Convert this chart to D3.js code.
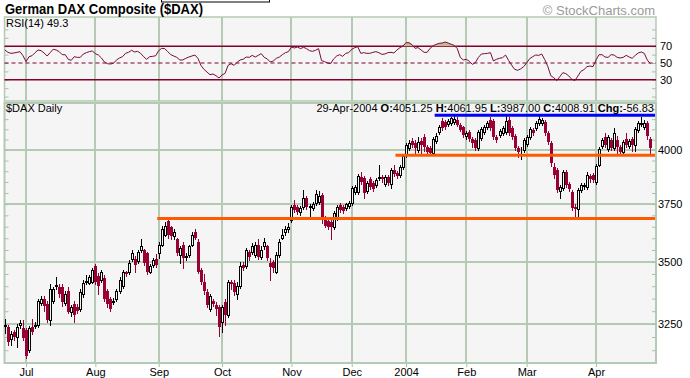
<!DOCTYPE html>
<html>
<head>
<meta charset="utf-8">
<script src="https://cdn.jsdelivr.net/npm/d3@7"></script>
<style>
  body { margin: 0; background: #fff; }
  text { font-family: "Liberation Sans", Arial, sans-serif; }
</style>
</head>
<body>
<div id="chart"></div>
<script>
// trading days shown per month (Jun 2003 partial ... Apr 2004)
var months = ["Jun", "Jul", "Aug", "Sep", "Oct", "Nov", "Dec", "2004", "Feb", "Mar", "Apr"];
var barsPerMonth = [7, 23, 21, 21, 23, 20, 18, 20, 20, 23, 19];

var opens = [
  3242,3239,3193,3220,3201,3248,3235,3227,3151,3239,
  3244,3246,3331,3347,3327,3266,3339,3399,3395,3395,
  3331,3379,3295,3327,3315,3307,3367,3417,3415,3419,
  3484,3440,3427,3432,3379,3347,3337,3347,3379,3399,
  3456,3456,3513,3513,3504,3552,3548,3539,3460,3488,
  3513,3539,3573,3616,3677,3647,3608,3595,3530,3573,
  3522,3530,3573,3629,3582,3468,3419,3375,3307,3339,
  3323,3315,3258,3335,3287,3419,3415,3367,3399,3488,
  3484,3543,3543,3530,3573,3522,3565,3565,3496,3500,
  3460,3530,3603,3625,3638,3681,3746,3737,3716,3737,
  3778,3737,3733,3755,3759,3792,3690,3677,3672,3647,
  3690,3746,3737,3733,3741,3755,3806,3806,3875,3870,
  3810,3866,3847,3838,3870,3875,3843,3875,3843,3907,
  3894,3884,3921,3977,4010,4044,4034,4000,4044,4064,
  4015,4010,3986,4044,4088,4142,4137,4127,4132,4137,
  4147,4123,4113,4069,4088,4054,4049,4010,4059,4088,
  4113,4147,4142,4064,4074,4083,4088,4147,4108,4069,
  4010,3998,4000,4029,4064,4098,4108,4132,4132,4137,
  4083,4034,3921,3907,3810,3824,3898,3843,3806,3737,
  3728,3815,3833,3829,3880,3884,3852,3931,4020,4064,
  4005,4049,4010,4049,4015,3991,4054,4020,4054,4025,
  4098,4127,4113,4132,4051.25
];
var highs = [
  3271,3246,3223,3227,3250,3266,3266,3235,3242,3271,
  3258,3347,3359,3359,3339,3407,3395,3436,3407,3407,
  3379,3395,3323,3339,3327,3387,3427,3444,3444,3476,
  3492,3452,3468,3444,3387,3355,3351,3387,3436,3468,
  3464,3509,3552,3526,3552,3595,3556,3543,3492,3517,
  3535,3582,3655,3672,3690,3655,3638,3603,3569,3582,
  3539,3573,3625,3638,3595,3476,3448,3387,3367,3347,
  3335,3323,3323,3347,3427,3427,3427,3419,3500,3500,
  3560,3552,3578,3586,3595,3565,3603,3573,3517,3509,
  3543,3595,3638,3655,3668,3746,3769,3746,3741,3815,
  3787,3750,3759,3815,3810,3801,3698,3685,3681,3720,
  3746,3755,3746,3755,3764,3833,3838,3889,3898,3880,
  3856,3875,3856,3870,3931,3884,3884,3884,3917,3931,
  3903,3931,3981,4034,4049,4059,4049,4064,4059,4078,
  4025,4020,4064,4083,4123,4157,4147,4152,4162,4172,
  4162,4132,4118,4093,4098,4064,4059,4098,4113,4123,
  4142,4162,4152,4074,4103,4118,4167,4162,4118,4078,
  4020,4015,4059,4074,4113,4108,4142,4167,4157,4147,
  4093,4044,3940,3917,3838,3907,3907,3852,3815,3750,
  3824,3847,3847,3898,3889,3894,3935,4015,4059,4083,
  4074,4059,4108,4069,4025,4049,4083,4054,4064,4113,
  4142,4162,4147,4142,4061.95
];
var lows = [
  3216,3170,3170,3189,3163,3235,3189,3121,3144,3212,
  3235,3239,3323,3299,3258,3246,3331,3387,3355,3319,
  3323,3291,3283,3258,3291,3299,3355,3407,3407,3411,
  3407,3367,3419,3339,3315,3299,3327,3339,3371,3391,
  3440,3448,3504,3460,3496,3543,3488,3448,3452,3480,
  3480,3517,3565,3608,3603,3595,3595,3530,3496,3476,
  3509,3522,3565,3595,3452,3407,3367,3315,3299,3319,
  3287,3205,3220,3246,3279,3387,3363,3347,3391,3468,
  3476,3509,3535,3522,3513,3513,3556,3509,3427,3460,
  3452,3522,3595,3616,3629,3672,3716,3707,3703,3728,
  3728,3694,3724,3746,3750,3668,3647,3638,3595,3638,
  3681,3716,3711,3724,3733,3746,3796,3796,3843,3778,
  3801,3819,3810,3829,3861,3852,3833,3838,3824,3880,
  3870,3875,3912,3968,4000,4015,3986,3991,3986,3995,
  3981,3977,3977,4034,4078,4098,4103,4118,4123,4127,
  4118,4093,4064,4054,4044,4015,4000,4000,4049,4078,
  4103,4098,4054,4039,4064,4074,4078,4074,4054,4000,
  3968,3958,3991,4020,4054,4074,4098,4123,4123,4074,
  4029,3926,3870,3806,3778,3815,3829,3810,3724,3694,
  3694,3806,3819,3819,3852,3852,3843,3926,4010,4015,
  3995,4000,4000,3986,3977,3981,4015,4010,3995,3995,
  4088,4118,4103,4054,3987.00
];
var closes = [
  3246,3182,3212,3201,3239,3252,3197,3128,3235,3220,
  3246,3339,3347,3319,3266,3387,3387,3403,3367,3335,
  3367,3295,3315,3287,3299,3375,3415,3421,3436,3468,
  3419,3399,3456,3347,3327,3307,3341,3379,3427,3456,
  3448,3496,3539,3488,3543,3565,3496,3456,3484,3509,
  3488,3573,3638,3655,3616,3608,3629,3539,3560,3517,
  3526,3565,3616,3603,3460,3419,3379,3323,3359,3327,
  3307,3239,3315,3287,3419,3407,3375,3399,3484,3476,
  3552,3522,3565,3573,3522,3552,3582,3517,3480,3476,
  3530,3586,3616,3638,3647,3737,3724,3716,3733,3778,
  3737,3741,3750,3796,3787,3681,3655,3651,3647,3711,
  3737,3724,3720,3750,3755,3824,3829,3880,3852,3801,
  3847,3829,3819,3861,3875,3866,3875,3847,3907,3889,
  3880,3921,3972,4025,4034,4025,4010,4039,4025,4015,
  3991,3986,4054,4069,4113,4108,4113,4142,4157,4152,
  4123,4098,4074,4083,4054,4034,4010,4088,4103,4113,
  4132,4108,4064,4049,4093,4108,4142,4083,4064,4010,
  3991,4002,4049,4064,4103,4083,4132,4152,4147,4083,
  4039,3940,3884,3815,3829,3898,3838,3819,3733,3728,
  3815,3838,3836,3884,3866,3861,3926,4005,4049,4025,
  4064,4010,4083,4015,3991,4039,4025,4044,4025,4103,
  4132,4132,4132,4065.74,4008.91
];
var rsi = [
  65.5,62.7,61.5,61.9,62.7,63.5,58.7,51.6,57.5,58.7,
  62.3,65.5,64.7,61.9,58.3,62.3,66.3,65.5,63.5,59.9,
  59.9,54.4,53.2,57.5,56.7,56.7,60.7,62.3,63.5,64.3,
  61.1,59.5,56.0,51.2,49.2,48.8,49.6,53.6,56.0,57.5,
  61.5,62.7,65.1,63.1,63.9,61.5,57.5,54.4,57.5,57.9,
  58.7,64.7,67.5,67.1,63.5,59.9,58.3,56.7,53.6,53.6,
  55.6,57.1,58.3,59.5,55.6,47.2,42.5,39.3,36.1,36.9,
  34.9,32.1,35.7,37.7,47.2,49.2,47.2,50.8,53.6,54.4,
  57.1,56.7,59.1,57.1,59.1,61.1,56.7,54.8,51.2,52.4,
  55.6,57.1,59.9,62.3,63.5,69.0,67.9,69.0,67.1,68.7,
  67.1,64.7,63.9,65.1,67.1,52.8,51.6,50.0,49.2,54.8,
  58.3,59.9,57.9,61.5,62.3,66.3,68.3,69.4,61.5,62.3,
  61.5,61.5,62.7,63.5,62.3,60.3,60.7,62.3,62.7,61.9,
  65.5,68.3,70.2,74.2,74.2,71.8,67.5,68.3,65.5,62.7,
  62.7,67.5,70.6,72.2,73.4,73.8,75.0,73.8,72.2,71.0,
  67.1,56.7,53.6,54.4,52.0,48.4,50.4,56.7,60.7,61.1,
  61.5,62.3,52.4,54.4,55.6,56.3,59.5,53.2,47.6,42.5,
  41.3,42.9,45.6,50.0,55.2,57.5,59.5,59.1,60.7,54.0,
  46.0,34.9,32.5,29.0,33.7,38.5,37.3,34.5,30.6,29.0,
  34.5,40.1,42.1,45.6,46.4,45.6,53.6,59.9,59.9,57.1,
  56.7,59.9,59.5,56.7,56.0,56.7,59.1,57.1,55.6,59.1,
  61.9,63.1,61.5,53.6,49.3
];

var priceTicks = [3250, 3500, 3750, 4000];
var rsiLevels = [30, 50, 70];
// support / resistance lines: level and first bar
var trendLevels = [3686, 3975, 4169];
var trendStart = [51, 130, 143];
var trendColors = ["#ff5a00", "#ff5a00", "#0000ff"];
var lastDate = "29-Apr-2004";

var width = 690, height = 378;
var L = 4.5, R = 656;
var rsiTop = 17, rsiBot = 101, pTop = 103, pBot = 363;
var gridColor = "#b4cab4", panelBg = "#f5f5f5", red = "#990033";

var svg = d3.select("#chart").append("svg")
    .attr("width", width).attr("height", height);

// scales
var x = d3.scaleLinear().domain([0, closes.length - 1]).range([4.9, 650.3]);
var y = d3.scaleLog().domain([3250, 4000]).range([324, 150]);
var yR = d3.scaleLinear().domain([0, 100]).range([105, 21]);

var monthStart = [], acc = 0;
barsPerMonth.forEach(function(n) { monthStart.push(acc); acc += n; });

// panels
svg.append("rect").attr("x", L).attr("y", rsiTop).attr("width", R - L).attr("height", rsiBot - rsiTop)
    .attr("fill", panelBg).attr("stroke", gridColor).attr("stroke-width", 1.5);
svg.append("rect").attr("x", L).attr("y", pTop).attr("width", R - L).attr("height", pBot - pTop)
    .attr("fill", panelBg).attr("stroke", gridColor).attr("stroke-width", 2);

// vertical month gridlines in both panels
var mIdx = monthStart.slice(1);
[[rsiTop, rsiBot], [pTop, pBot]].forEach(function(p) {
  svg.append("g").selectAll("line").data(mIdx).enter().append("line")
      .attr("x1", function(d) { return Math.round(x(d)); })
      .attr("x2", function(d) { return Math.round(x(d)); })
      .attr("y1", p[0]).attr("y2", p[1])
      .attr("stroke", gridColor).attr("stroke-width", 2);
});

// horizontal price gridlines
svg.append("g").selectAll("line").data(priceTicks).enter().append("line")
    .attr("x1", L).attr("x2", R)
    .attr("y1", function(d) { return Math.round(y(d)); })
    .attr("y2", function(d) { return Math.round(y(d)); })
    .attr("stroke", gridColor).attr("stroke-width", 2);

// minor ticks on both edges of price panel
var minor = d3.range(3150, 4251, 50);
var axR = svg.append("g").attr("transform", "translate(" + R + ",0)")
    .call(d3.axisLeft(y).tickValues(minor).tickSize(4).tickFormat(""));
var axL = svg.append("g").attr("transform", "translate(" + L + ",0)")
    .call(d3.axisRight(y).tickValues(minor).tickSize(4).tickFormat(""));
var rsiMinor = d3.range(10, 100, 10);
var axR2 = svg.append("g").attr("transform", "translate(" + R + ",0)")
    .call(d3.axisLeft(yR).tickValues(rsiMinor).tickSize(4).tickFormat(""));
var axL2 = svg.append("g").attr("transform", "translate(" + L + ",0)")
    .call(d3.axisRight(yR).tickValues(rsiMinor).tickSize(4).tickFormat(""));
[axR, axL, axR2, axL2].forEach(function(a) {
  a.select(".domain").remove();
  a.selectAll(".tick").filter(function(d) {
    var yy = (a === axR || a === axL) ? y(d) : yR(d);
    return (a === axR || a === axL) ? (yy < pTop + 2 || yy > pBot - 2) : (yy < rsiTop + 2 || yy > rsiBot - 2);
  }).remove();
  a.selectAll("line").attr("stroke", "#a9bfa9");
});

// right labels
var labP = svg.append("g").attr("transform", "translate(" + (R + 1) + ",0)")
    .call(d3.axisRight(y).tickValues(priceTicks).tickSize(0).tickPadding(1).tickFormat(d3.format("d")));
var labR = svg.append("g").attr("transform", "translate(" + (R + 1) + ",0)")
    .call(d3.axisRight(yR).tickValues(rsiLevels).tickSize(0).tickPadding(3));
[labP, labR].forEach(function(a) {
  a.select(".domain").remove();
  a.selectAll("text").attr("font-size", 11).attr("fill", "#000")
      .attr("font-family", "Liberation Sans, Arial, sans-serif");
});

// bottom month axis
var axB = svg.append("g").attr("transform", "translate(0," + (pBot + 1) + ")")
    .call(d3.axisBottom(x).tickValues(mIdx).tickSize(3).tickPadding(1)
      .tickFormat(function(d, i) { return months[i + 1]; }));
axB.select(".domain").remove();
axB.selectAll("line").attr("stroke", "#a9bfa9").attr("stroke-width", 1);
axB.selectAll("text").attr("font-size", 11).attr("fill", "#000")
    .attr("font-family", "Liberation Sans, Arial, sans-serif");

// RSI reference lines
svg.append("g").selectAll("line").data(rsiLevels).enter().append("line")
    .attr("x1", L).attr("x2", R)
    .attr("y1", function(d) { return yR(d); }).attr("y2", function(d) { return yR(d); })
    .attr("stroke", "#800030").attr("stroke-width", function(d) { return d === 50 ? 1.2 : 1.6; })
    .attr("stroke-dasharray", function(d) { return d === 50 ? "4,3" : null; });

// RSI overbought fill + line
var idx = d3.range(rsi.length);
svg.append("path").datum(idx)
    .attr("d", d3.area().x(function(i) { return x(i); })
      .y0(yR(70)).y1(function(i) { return yR(Math.max(rsi[i], 70)); }))
    .attr("fill", "#c9b98c");
svg.append("path").datum(idx)
    .attr("d", d3.line().x(function(i) { return x(i); }).y(function(i) { return yR(rsi[i]); }))
    .attr("fill", "none").attr("stroke", "#7a0a3c").attr("stroke-width", 1);

// candlesticks
var bars = svg.append("g").attr("shape-rendering", "crispEdges");
idx.forEach(function(i) {
  var cx = Math.round(x(i));
  var o = opens[i], c = closes[i];
  var down = c < o;
  var col = down ? red : "#000";
  bars.append("line")
      .attr("x1", cx + 0.5).attr("x2", cx + 0.5)
      .attr("y1", Math.round(y(highs[i]))).attr("y2", Math.round(y(lows[i])) + 1)
      .attr("stroke", col);
  var t = Math.round(y(Math.max(o, c))), b = Math.round(y(Math.min(o, c)));
  if (down) {
    bars.append("rect").attr("x", cx - 1).attr("y", t)
        .attr("width", 3).attr("height", Math.max(1, b - t)).attr("fill", red);
  } else {
    bars.append("rect").attr("x", cx - 0.5).attr("y", t + 0.5)
        .attr("width", 2).attr("height", Math.max(0, b - t))
        .attr("fill", panelBg).attr("stroke", "#000").attr("stroke-width", 1);
  }
});

// support / resistance lines
svg.append("g").selectAll("line").data(trendLevels).enter().append("line")
    .attr("x1", function(d, k) { return x(trendStart[k]) - 1.5; })
    .attr("x2", R - 1)
    .attr("y1", function(d) { return y(d); }).attr("y2", function(d) { return y(d); })
    .attr("stroke", function(d, k) { return trendColors[k]; }).attr("stroke-width", 3);

// texts
svg.append("rect").attr("x", 161.5).attr("y", -4).attr("width", 108).attr("height", 6)
    .attr("fill", "#fff").attr("stroke", "#000");
svg.append("text").attr("x", 5).attr("y", 14)
    .attr("font-size", 15).attr("font-weight", "bold")
    .attr("textLength", 198).attr("lengthAdjust", "spacingAndGlyphs")
    .text("German DAX Composite ($DAX)");
svg.append("text").attr("x", 655).attr("y", 15).attr("text-anchor", "end")
    .attr("font-size", 13).attr("fill", "#9a9a9a").text("\u00a9 StockCharts.com");
svg.append("text").attr("x", 6).attr("y", 27).attr("font-size", 11)
    .text("RSI(14) " + rsi[rsi.length - 1].toFixed(1));
svg.append("text").attr("x", 6).attr("y", 112).attr("font-size", 11).text("$DAX Daily");

var n = closes.length - 1;
var parts = [
  [lastDate + " ", false],
  ["O:", true], [opens[n].toFixed(2) + " ", false],
  ["H:", true], [highs[n].toFixed(2) + " ", false],
  ["L:", true], [lows[n].toFixed(2) + " ", false],
  ["C:", true], [closes[n].toFixed(2) + " ", false],
  ["Chg:", true], [(closes[n] - closes[n - 1]).toFixed(2), false]
];
var hdr = svg.append("text").attr("x", 654).attr("y", 112).attr("text-anchor", "end")
    .attr("font-size", 11).attr("xml:space", "preserve");
parts.forEach(function(p) {
  hdr.append("tspan").attr("font-weight", p[1] ? "bold" : "normal").text(p[0]);
});
</script>
</body>
</html>
